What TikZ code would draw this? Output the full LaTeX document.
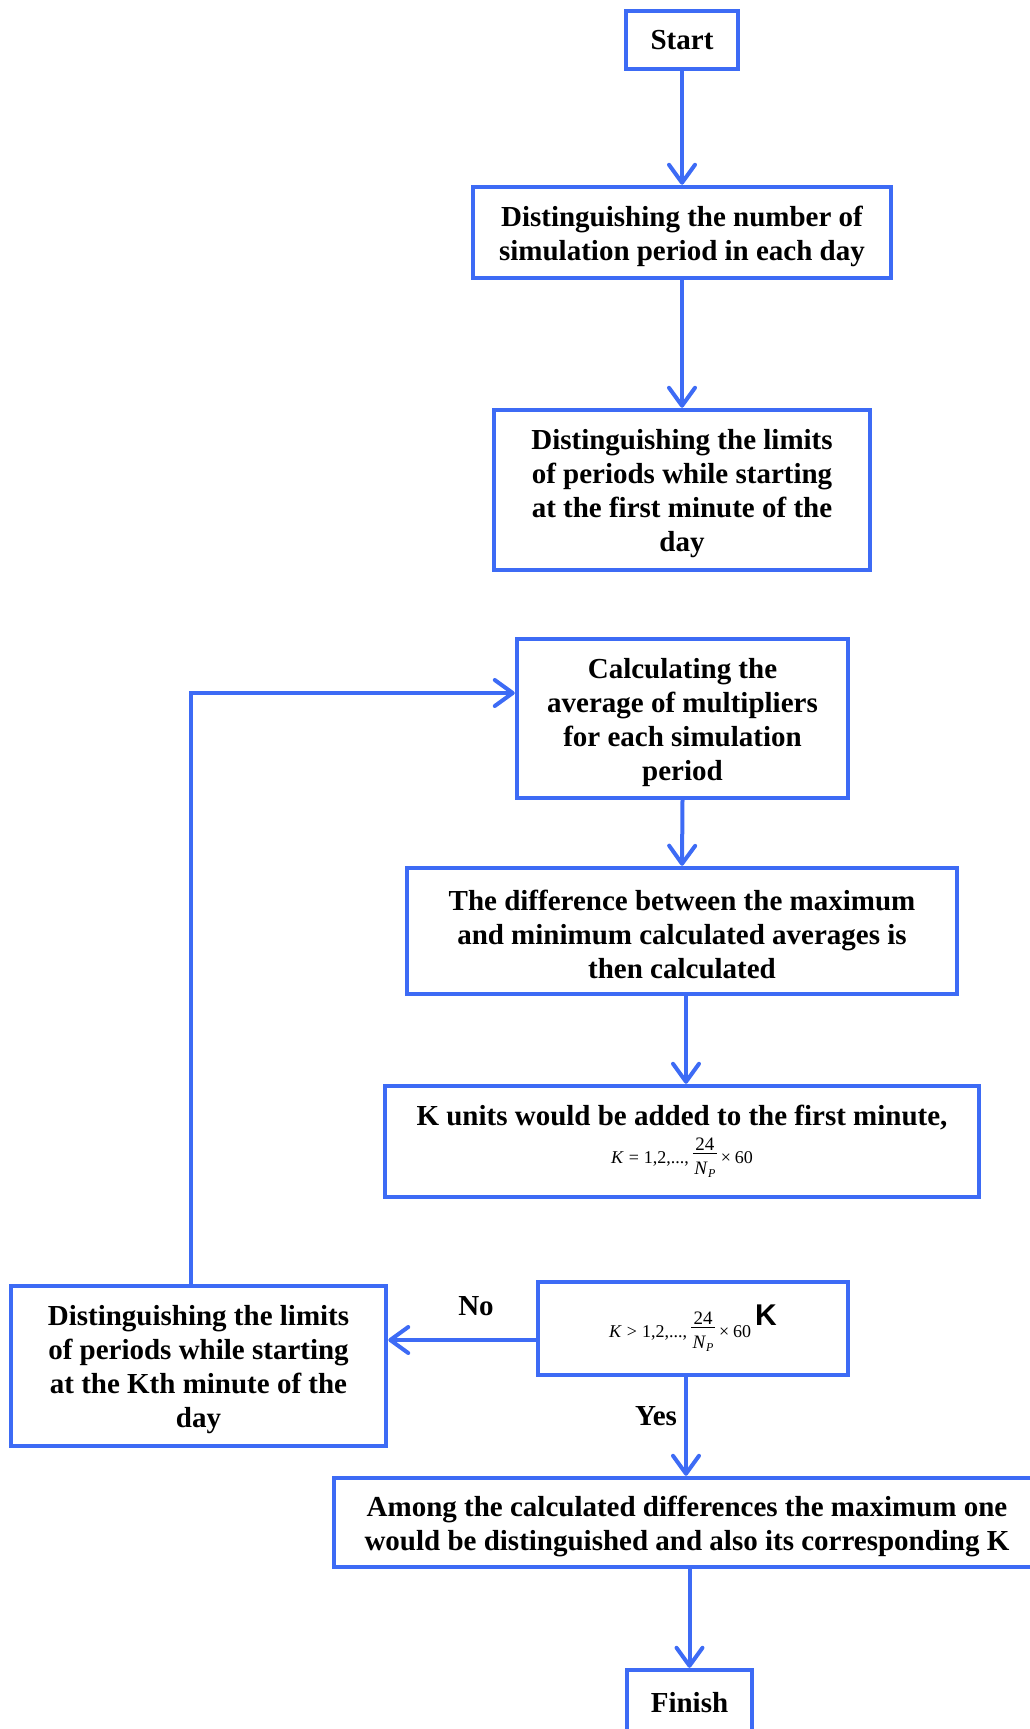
\documentclass[tikz,border=0pt]{standalone}
\usepackage{fontspec}
\setmainfont{Liberation Serif}
\setsansfont{Liberation Sans}
\usetikzlibrary{arrows.meta}
\definecolor{fblue}{RGB}{61,107,245}
\newcommand{\ts}{\rule{0pt}{28pt}}
\newcommand{\np}{\textit{N}\raisebox{-3pt}{\fontsize{12}{12}\selectfont\textit{P}}}
\newcommand{\vfr}{\raisebox{-11pt}{\vbox{\offinterlineskip\halign{\hfil\kern1.5pt##\kern1.5pt\hfil\cr
  \fontsize{19}{19}\selectfont 24\cr
  \noalign{\vskip3pt\hrule height 1pt\vskip8pt}
  \fontsize{19}{19}\selectfont\np\cr}}}}
\newcommand{\kform}[1]{{\mdseries\fontsize{18}{20}\selectfont\textit{K}\kern5pt#1\kern5pt1,2,...,\kern4pt\vfr\kern4pt×\kern4pt60}}
\begin{document}
\begin{tikzpicture}[x=1pt,y=-1pt,
  box/.style={draw=fblue,line width=4.5pt,rectangle,align=center,inner sep=0pt,
    font=\fontsize{29}{34}\selectfont\bfseries},
  arr/.style={draw=fblue,line width=4pt,line cap=round,
    -{Straight Barb[length=18pt,width=26pt,line width=4pt,round]}},
  lbl/.style={font=\fontsize{29}{34}\selectfont\bfseries,inner sep=0pt}]
\useasboundingbox (0,0) rectangle (1029,1729);
\node[box,minimum width=112pt,minimum height=58pt] (start) at (682,40) {Start};
\node[box,minimum width=418pt,minimum height=91pt] (b2) at (682,232.5)
  {\ts Distinguishing the number of\\simulation period in each day};
\node[box,minimum width=376pt,minimum height=160pt] (b3) at (682,490)
  {\ts Distinguishing the limits\\of periods while starting\\at the first minute of the\\day};
\node[box,minimum width=331pt,minimum height=159pt] (b4) at (682.5,718.5)
  {\ts Calculating the\\average of multipliers\\for each simulation\\period};
\node[box,minimum width=550pt,minimum height=126pt] (b5) at (682,931)
  {\ts The difference between the maximum\\and minimum calculated averages is\\then calculated};
\node[box,minimum width=594pt,minimum height=111pt] (b6) at (682,1141.5)
  {K units would be added to the first minute,\\[4pt]
   \kform{=}};
\node[box,minimum width=310pt,minimum height=93pt] (b7) at (693,1328.5)
  {\kform{>}\kern4pt\raisebox{12pt}{\sffamily\bfseries\fontsize{30}{30}\selectfont K}};
\node[box,minimum width=375pt,minimum height=160pt] (b8) at (198.5,1366)
  {\ts Distinguishing the limits\\of periods while starting\\at the Kth minute of the\\day};
\node[box,minimum width=706pt,minimum height=89pt] (b9) at (687,1522.5)
  {\ts Among the calculated differences the maximum one\\would be distinguished and also its corresponding K};
\node[box,minimum width=125pt,minimum height=66pt] (fin) at (689.5,1703) {Finish};
\node[lbl] (no) at (476,1306) {No};
\node[lbl] (yes) at (656,1416) {Yes};
\draw[arr] (start.south) -- (b2.north);
\draw[arr] (b2.south) -- (b3.north);
\draw[arr] (b4.south) -- (b5.north);
\draw[arr] ([xshift=4pt]b5.south) -- ([xshift=4pt]b6.north);
\coordinate (noA) at ([yshift=-11.5pt]b7.west);
\draw[arr] (noA) -- (noA -| b8.east);
\coordinate (yA) at ([xshift=-7pt]b7.south);
\draw[arr] (yA) -- (yA |- b9.north);
\coordinate (lp) at ([xshift=-7.5pt]b8.north);
\coordinate (lq) at ([yshift=25.5pt]b4.west);
\draw[arr] (lp) |- (lq);
\draw[arr] (fin.north |- b9.south) -- (fin.north);
\end{tikzpicture}
\end{document}
